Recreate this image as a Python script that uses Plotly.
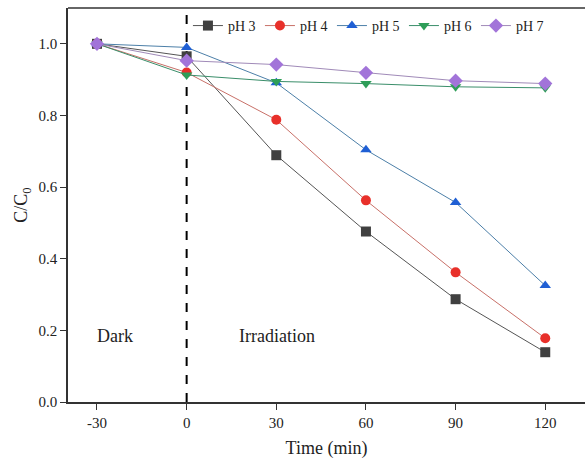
import plotly.graph_objects as go

time = [-30, 0, 30, 60, 90, 120]
time_labels = ["-30", "0", "30", "60", "90", "120"]
ph3 = [1.0, 0.965, 0.689, 0.476, 0.287, 0.139]
ph4 = [1.0, 0.920, 0.788, 0.563, 0.362, 0.178]
ph5 = [1.0, 0.990, 0.891, 0.704, 0.557, 0.325]
ph6 = [1.0, 0.913, 0.895, 0.889, 0.880, 0.877]
ph7 = [1.0, 0.953, 0.942, 0.919, 0.897, 0.889]
y_ticks = [0, 0.2, 0.4, 0.6, 0.8, 1.0]
names = ["pH 3", "pH 4", "pH 5", "pH 6", "pH 7"]
series = [ph3, ph4, ph5, ph6, ph7]
colors = ["#404040", "#e8302a", "#1f5fd4", "#2e9e58", "#a274d9"]
linecolors = ["#555555", "#c87068", "#4c7fa8", "#3a8e6a", "#a08ab8"]
symbols = ["square", "circle", "triangle-up", "triangle-down", "diamond"]

fig = go.Figure()
for n, s, c, lc, sym in zip(names, series, colors, linecolors, symbols):
    fig.add_trace(go.Scatter(
        x=time, y=s, name=n, mode="lines+markers",
        line=dict(color=lc, width=1),
        marker=dict(color=c, symbol=sym, size=10 if sym != "diamond" else 11),
    ))

fig.add_shape(type="line", xref="x", yref="paper", x0=0, x1=0, y0=0, y1=1,
              line=dict(color="black", width=2, dash="dash"), layer="below")
fig.add_shape(type="line", xref="paper", yref="paper", x0=0, x1=1, y0=1, y1=1,
              line=dict(color="#333333", width=1.5))

fig.add_annotation(x=-24, y=0.184, text="Dark", showarrow=False,
                   font=dict(size=18, color="#222222"))
fig.add_annotation(x=30.3, y=0.184, text="Irradiation", showarrow=False,
                   font=dict(size=18, color="#222222"))

fig.update_layout(
    width=585, height=462,
    margin=dict(l=68, r=0, t=8, b=60),
    plot_bgcolor="white", paper_bgcolor="white",
    font=dict(family="Liberation Serif", size=15, color="#222222"),
    showlegend=True,
    legend=dict(orientation="h", x=0.232, y=0.995, xanchor="left", yanchor="top",
                bgcolor="rgba(0,0,0,0)", font=dict(size=14), itemwidth=30,
                entrywidth=27, entrywidthmode="pixels", tracegroupgap=0),
    xaxis=dict(range=[-39.7, 133.3], tickvals=time, ticktext=time_labels,
               showline=True, linecolor="#333333", linewidth=1.5,
               ticks="outside", ticklen=6, tickcolor="#333333",
               showgrid=False, zeroline=False,
               title=dict(text="Time (min)", font=dict(size=18), standoff=12)),
    yaxis=dict(range=[0, 1.1], tickvals=y_ticks, tickformat=".1f",
               showline=True, linecolor="#333333", linewidth=1.5,
               ticks="outside", ticklen=6, tickcolor="#333333",
               showgrid=False, zeroline=False,
               title=dict(text="C/C<sub>0</sub>", font=dict(size=18), standoff=6)),
)

fig.write_html("out.html")
